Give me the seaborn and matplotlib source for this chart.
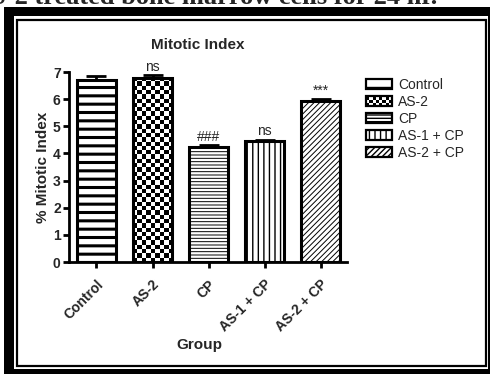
import numpy as np
import pandas as pd
import matplotlib
matplotlib.use('Agg')
import matplotlib.pyplot as plt
import seaborn as sns
from matplotlib.patches import Rectangle, Patch
from matplotlib.legend_handler import HandlerBase

# ---------------- data ----------------
groups = ['Control', 'AS-2', 'CP', 'AS-1 + CP', 'AS-2 + CP']
means = [6.72, 6.78, 4.23, 4.46, 5.93]
sems = [0.12, 0.12, 0.07, 0.05, 0.09]
marks = ['', 'ns', '###', 'ns', '***']
yticks = [0, 1, 2, 3, 4, 5, 6, 7]

# styles (None = checkerboard)
hatches = ['--', None, '-----', '|||', '//////']
hatch_lw = [2.2, 1.0, 0.7, 1.0, 0.7]

sns.set_theme(style='ticks')
plt.rcParams['font.family'] = ['Liberation Sans', 'DejaVu Sans']

W, H = 490, 374
fig = plt.figure(figsize=(W / 100, H / 100), dpi=100)
fig.patch.set_facecolor('white')


def frame_rect(x0, y0, x1, y1, **kw):
    r = Rectangle((x0 / W, 1 - y1 / H), (x1 - x0) / W, (y1 - y0) / H,
                  transform=fig.transFigure, zorder=-10, **kw)
    fig.add_artist(r)


frame_rect(4, 7, 495, 380, facecolor='black', edgecolor='none')
frame_rect(14, 16, 488, 369, facecolor='white', edgecolor='none')
frame_rect(17, 20, 486, 366, fill=False, edgecolor='black', linewidth=1.6)

fig.text(437 / W, 1 - 4 / H, 'AS-2 treated bone marrow cells for 24 hr.',
         ha='right', va='baseline', fontsize=19, fontweight='bold',
         family=['Liberation Serif', 'DejaVu Serif'], zorder=-20)

ax = fig.add_axes([69 / W, 1 - 262 / H, (347 - 69) / W, (262 - 72) / H])
ax.set_facecolor('none')

df = pd.DataFrame({'Group': groups, 'Mean': means})
sns.barplot(data=df, x='Group', y='Mean', ax=ax, color='white',
            edgecolor='black', linewidth=2.2, width=0.7, errorbar=None,
            saturation=1, zorder=2)

bars = list(ax.patches)[:len(groups)]
for bar, h, lw in zip(bars, hatches, hatch_lw):
    bar.set_facecolor('white')
    bar.set_edgecolor('black')
    if h is not None:
        bar.set_hatch(h)
        if hasattr(bar, 'set_hatch_linewidth'):
            bar.set_hatch_linewidth(lw)

# checkerboard fill for AS-2 bar, clipped to the bar
cb = bars[1]
ncol, nrow = 9, 43
checker = (np.indices((nrow, ncol)).sum(axis=0) % 2).astype(float)
x0 = cb.get_x()
img = ax.imshow(checker, cmap='gray', interpolation='nearest', aspect='auto',
                extent=(x0, x0 + cb.get_width(), 0, cb.get_height()),
                origin='lower', zorder=1.5)
img.set_clip_path(cb)
cb.set_facecolor('none')

centers = [b.get_x() + b.get_width() / 2 for b in bars]
ax.errorbar(centers, means, yerr=[np.zeros(len(means)), sems], fmt='none',
            ecolor='black', elinewidth=2, capsize=7, capthick=2, zorder=3)

for c, m, s, t in zip(centers, means, sems, marks):
    if t:
        ax.annotate(t, (c, m + s), xytext=(0, 3), textcoords='offset points',
                    ha='center', va='baseline', fontsize=10)

ax.set_xlim(-0.49, 4.47)
ax.set_ylim(0, 7)
ax.set_yticks(yticks)
ax.set_yticklabels([str(v) for v in yticks], fontweight='bold', fontsize=10)
ax.set_xticks(range(len(groups)))
ax.set_xticklabels(groups, rotation=45, ha='right', rotation_mode='anchor',
                   fontweight='bold', fontsize=10)
ax.tick_params(axis='both', width=2, direction='out', color='black')
ax.tick_params(axis='y', length=4, pad=2)
ax.tick_params(axis='x', length=4, pad=7)
sns.despine(ax=ax)
for sp in ['left', 'bottom']:
    ax.spines[sp].set_linewidth(2)
    ax.spines[sp].set_color('black')
ax.set_xlabel('')
ax.set_ylabel('% Mitotic Index', fontweight='bold', fontsize=11, labelpad=2)

fig.text(198 / W, 1 - 45 / H, 'Mitotic Index', ha='center', va='center',
         fontweight='bold', fontsize=11)
fig.text(199 / W, 1 - 345 / H, 'Group', ha='center', va='center',
         fontweight='bold', fontsize=11)


class CheckerHandler(HandlerBase):
    def create_artists(self, legend, orig_handle, xdescent, ydescent, width,
                       height, fontsize, trans):
        arts = [Rectangle((-xdescent, -ydescent), width, height,
                          facecolor='white', edgecolor='none', transform=trans)]
        nc, nr = 8, 3
        cw, ch = width / nc, height / nr
        for i in range(nr):
            for j in range(nc):
                if (i + j) % 2 == 0:
                    arts.append(Rectangle((-xdescent + j * cw, -ydescent + i * ch),
                                          cw, ch, facecolor='black',
                                          edgecolor='none', transform=trans))
        arts.append(Rectangle((-xdescent, -ydescent), width, height,
                              fill=False, edgecolor='black', linewidth=1.6,
                              transform=trans))
        return arts


handles = []
hmap = {}
for h, lw in zip(hatches, hatch_lw):
    p = Patch(facecolor='white', edgecolor='black', linewidth=1.6,
              hatch=h if h is not None else '')
    if h is not None and hasattr(p, 'set_hatch_linewidth'):
        p.set_hatch_linewidth(lw)
    if h is None:
        hmap[p] = CheckerHandler()
    handles.append(p)

fig.legend(handles, groups, handler_map=hmap, loc='upper left',
           bbox_to_anchor=(366 / W, 1 - 78 / H), frameon=False, fontsize=10,
           handlelength=1.9, handleheight=0.75, handletextpad=0.4,
           labelspacing=0.22, borderpad=0, borderaxespad=0)

fig.savefig('out.png', dpi=100)
